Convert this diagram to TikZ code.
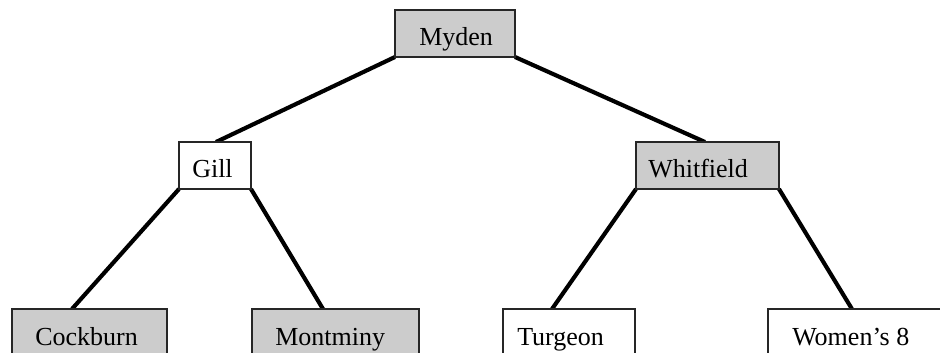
\documentclass[tikz,border=0pt]{standalone}
\usepackage{fontspec}
\setmainfont{Liberation Serif}
\usetikzlibrary{calc,backgrounds}
\definecolor{boxgray}{gray}{0.8}
\tikzset{
  box/.style={draw=black!85, line width=0.8pt, rectangle, inner sep=0pt, outer sep=0pt},
  graybox/.style={box, fill=boxgray},
  whitebox/.style={box, fill=white},
  lbl/.style={anchor=base west, inner sep=0pt, font=\fontsize{19.5}{22}\selectfont},
  edge/.style={line width=3.1pt, black}
}
\begin{document}
\begin{tikzpicture}[x=0.75pt,y=-0.75pt]
\clip (0,0) rectangle (940,353);
\useasboundingbox (0,0) rectangle (940,353);
% boxes
\node[graybox, minimum width=90pt, minimum height=35.25pt] (myden) at (455,33.5) {};
\node[whitebox, minimum width=54pt, minimum height=35.25pt] (gill) at (215,165.5) {};
\node[graybox, minimum width=107.25pt, minimum height=35.25pt] (whitfield) at (707.5,165.5) {};
\node[graybox, minimum width=116.25pt, minimum height=45pt] (cockburn) at (89.5,339) {};
\node[graybox, minimum width=125.25pt, minimum height=45pt] (montminy) at (335.5,339) {};
\node[whitebox, minimum width=99pt, minimum height=45pt] (turgeon) at (569,339) {};
\node[whitebox, minimum width=260pt, minimum height=45pt] (women) at (941.3,339) {};
% labels
\node[lbl] (tmyden) at (419,46) {Myden};
\node[lbl] (tgill) at (192,177) {Gill};
\node[lbl] (twhitfield) at (648,177) {Whitfield};
\node[lbl] (tcockburn) at (35,345) {Cockburn};
\node[lbl] (tmontminy) at (275,345) {Montminy};
\node[lbl] (tturgeon) at (517,345) {Turgeon};
\node[lbl] (twomen) at (792,345) {Women’s 8};
% connectors
\begin{scope}[on background layer]
\draw[edge] (myden.south west) -- ($(gill.north west)+(37,0)$);
\draw[edge] (myden.south east) -- ($(whitfield.north west)+(69,0)$);
\draw[edge] (gill.south west) -- ($(cockburn.north west)+(60,0)$);
\draw[edge] (gill.south east) -- ($(montminy.north west)+(71,0)$);
\draw[edge] (whitfield.south west) -- ($(turgeon.north west)+(49,0)$);
\draw[edge] (whitfield.south east) -- ($(women.north west)+(84,0)$);
\end{scope}
\end{tikzpicture}
\end{document}
